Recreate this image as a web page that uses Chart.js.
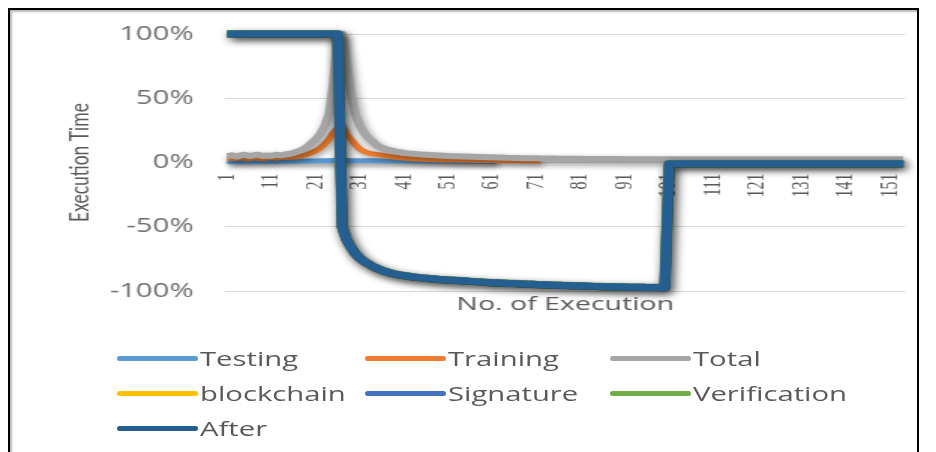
<!DOCTYPE html>
<html>
<head>
<meta charset="utf-8">
<script src="https://cdn.jsdelivr.net/npm/chart.js@4.4.1/dist/chart.umd.min.js"></script>
<style>
  html, body { margin: 0; padding: 0; background: #fff; overflow: hidden; }
  #page { position: relative; width: 936px; height: 452px; overflow: hidden; background: #fff; }
  #frame {
    position: absolute; left: 8px; top: 8px; width: 907px; height: 470px;
    border: 2px solid #000; border-bottom: none;
    box-shadow: inset 2px 2px 2px rgba(0,0,0,0.28);
  }
  /* the plot is drawn at 2/3 width and widened to the page width */
  #stage { position: absolute; left: 0; top: 0; width: 624px; height: 325px; transform: scaleX(1.5); transform-origin: 0 0; }
  #legend { position: absolute; left: 0; top: 0; width: 936px; height: 452px; }
  .item { position: absolute; height: 28px; display: flex; align-items: center; }
  .swatch { display: inline-block; width: 81px; height: 5px; border-radius: 3px; flex: none; }
  .name {
    display: inline-block; margin-left: 2px; font: 19.5px "Open Sans", sans-serif; color: #595959;
    white-space: nowrap; transform: scaleX(1.5); transform-origin: 0 50%;
  }
</style>
</head>
<body>
<div id="page">
  <div id="frame"></div>
  <div id="stage"><canvas id="c" width="624" height="325"></canvas></div>
  <div id="legend"></div>
</div>
<script>
// Run numbers 1..154 along the category axis
const categories = Array.from({ length: 154 }, (_, i) => String(i + 1));
const xTickLabels = ['1','11','21','31','41','51','61','71','81','91','101','111','121','131','141','151'];
const yMin = -100, yMax = 100, yStep = 50;

const seriesNames  = ['Testing', 'Training', 'Total', 'blockchain', 'Signature', 'Verification', 'After'];
const seriesColors = ['#5B9BD5', '#ED7D31', '#A5A5A5', '#FFC000', '#4472C4', '#70AD47', '#255E91'];

// Execution time change, percent
const testingPct = [
  0.5,0.6,0.5,0.6,0.7,0.6,0.6,0.7,0.7,0.8,
  0.8,0.8,0.9,0.9,1.0,1.0,1.0,1.1,1.1,1.2,
  1.2,1.3,1.3,1.4,1.5,1.5,1.5,1.5,1.4,1.4,
  1.4,1.3,1.3,1.3,1.3,1.2,1.2,1.2,1.2,1.1,
  1.1,1.1,1.0,1.0,1.0,1.0,0.9,0.9,0.9,0.9,
  0.9,0.8,0.8,0.8,0.8,0.8,0.7,0.7,0.7,0.7,
  0.7,0.6
];

const trainingPct = [
  3.0,3.4,3.1,3.6,3.3,3.0,3.7,3.3,3.1,3.5,
  3.8,3.4,3.9,4.1,4.0,4.3,4.5,5.2,6.2,7.5,
  9.0,11,14,18,23,27,29,22,18,14,
  10.5,8.5,7.3,6.6,6.1,5.6,5.1,4.6,4.1,3.7,
  3.4,3.1,2.9,2.7,2.5,2.4,2.3,2.2,2.1,2.0,
  1.9,1.9,1.8,1.8,1.7,1.7,1.6,1.6,1.5,1.5,
  1.5,1.4,1.4,1.4,1.3,1.3,1.3,1.2,1.2,1.2,
  1.1,1.1
];

const totalPct = [
  5.0,5.6,4.6,5.5,6.0,5.0,5.6,6.1,5.1,5.5,
  5.2,6.0,5.6,6.2,6.6,7.5,8.5,10,12,15,
  18,22,28,37,60,98,100,78,55,38,
  29,23,19,16,13,11.5,10.3,9.4,8.7,8.1,
  7.5,7.1,6.8,6.5,6.2,6.0,5.8,5.6,5.4,5.2,
  5.0,4.9,4.8,4.7,4.6,4.5,4.4,4.3,4.2,4.1,
  4.0,3.9,3.8,3.7,3.6,3.5,3.5,3.4,3.4,3.3,
  3.3,3.2,3.2,3.1,3.1,3.0,3.0,3.0,2.9,2.9,
  2.9,2.8,2.8,2.8,2.8,2.7,2.7,2.7,2.7,2.7,
  2.6,2.6,2.6,2.6,2.6,2.6,2.6,2.6,2.6,2.6,
  2.5,2.5,2.5,2.5,2.5,2.5,2.5,2.5,2.5,2.5,
  2.5,2.5,2.5,2.5,2.5,2.5,2.5,2.5,2.5,2.5,
  2.5,2.5,2.5,2.5,2.5,2.5,2.5,2.5,2.5,2.5,
  2.5,2.5,2.5,2.5,2.5,2.5,2.5,2.5,2.5,2.5,
  2.5,2.5,2.5,2.5,2.5,2.5,2.5,2.5,2.5,2.5,
  2.5,2.5,2.5,2.5
];

const afterPct = [
  100,100,100,100,100,100,100,100,100,100,
  100,100,100,100,100,100,100,100,100,100,
  100,100,100,100,100,100,-50,-60,-66,-71,
  -74.5,-77,-79,-81,-82.5,-84,-85,-86,-86.8,-87.5,
  -88,-88.5,-89,-89.4,-89.8,-90.1,-90.4,-90.7,-91,-91.2,
  -91.5,-91.7,-91.9,-92.1,-92.3,-92.5,-92.7,-92.9,-93.1,-93.3,
  -93.5,-93.6,-93.8,-93.9,-94.1,-94.2,-94.4,-94.5,-94.7,-94.8,
  -95,-95.1,-95.2,-95.3,-95.5,-95.6,-95.7,-95.8,-95.9,-96,
  -96.1,-96.2,-96.3,-96.4,-96.5,-96.6,-96.7,-96.7,-96.8,-96.9,
  -96.9,-97,-97,-97.1,-97.1,-97.2,-97.2,-97.3,-97.3,-97.4,
  -1,-1,-1,-1,-1,-1,-1,-1,-1,-1,
  -1,-1,-1,-1,-1,-1,-1,-1,-1,-1,
  -1,-1,-1,-1,-1,-1,-1,-1,-1,-1,
  -1,-1,-1,-1,-1,-1,-1,-1,-1,-1,
  -1,-1,-1,-1,-1,-1,-1,-1,-1,-1,
  -1,-1,-1,-1
];

// blockchain, Signature and Verification run on the same trace as After and sit beneath it
const blockchainPct = afterPct;
const signaturePct = afterPct;
const verificationPct = afterPct;

const seriesData = [testingPct, trainingPct, totalPct, blockchainPct, signaturePct, verificationPct, afterPct];
const lineWidths = [5, 5, 6, 7, 7, 7.5, 7];
const shadows = {
  Testing:  { color: 'rgba(0,0,0,0.45)', blur: 5, dx: 1.5, dy: 3 },
  Training: { color: 'rgba(0,0,0,0.35)', blur: 5, dx: 1.5, dy: 3 },
  Total:    { color: 'rgba(0,0,0,0.45)', blur: 6, dx: 1.5, dy: 3 },
  After:    { color: 'rgba(0,0,0,0.85)', blur: 7, dx: 2, dy: 3 }
};

// soft drop shadow under the series lines
const lineShadow = {
  id: 'lineShadow',
  beforeDatasetDraw(chart, args) {
    const s = shadows[chart.data.datasets[args.index].label];
    if (!s) return;
    const ctx = chart.ctx;
    ctx.save();
    ctx.shadowColor = s.color;
    ctx.shadowBlur = s.blur;
    ctx.shadowOffsetX = s.dx;
    ctx.shadowOffsetY = s.dy;
  },
  afterDatasetDraw(chart, args) {
    if (shadows[chart.data.datasets[args.index].label]) chart.ctx.restore();
  }
};

// axis titles: value title to the left, category title under the plot
const axisTitles = {
  id: 'axisTitles',
  afterDraw(chart) {
    const { ctx, chartArea } = chart;
    ctx.save();
    ctx.fillStyle = '#595959';
    ctx.textAlign = 'center';
    ctx.textBaseline = 'middle';
    ctx.font = '17.5px Lato, sans-serif';
    ctx.translate(chartArea.left - 96.5, (chartArea.top + chartArea.bottom) / 2);
    ctx.rotate(-Math.PI / 2);
    ctx.fillText('Execution Time', 0, 0);
    ctx.restore();
    ctx.save();
    ctx.fillStyle = '#595959';
    ctx.textAlign = 'center';
    ctx.textBaseline = 'middle';
    ctx.font = '19px "Open Sans", sans-serif';
    ctx.fillText('No. of Execution', (chartArea.left + chartArea.right) / 2, chartArea.bottom + 14);
    ctx.restore();
  }
};

const datasets = seriesNames.map((name, i) => ({
  label: name,
  data: seriesData[i],
  borderColor: seriesColors[i],
  backgroundColor: seriesColors[i],
  borderWidth: lineWidths[i],
  pointRadius: 0,
  tension: 0,
  fill: false,
  clip: false,
  borderJoinStyle: 'round',
  borderCapStyle: 'butt',
  order: seriesNames.length - i
}));

const chart = new Chart(document.getElementById('c'), {
  type: 'line',
  data: { labels: categories, datasets },
  options: {
    responsive: false,
    animation: false,
    events: [],
    layout: { padding: { left: 0, top: 34, right: 18.7, bottom: 34 } },
    plugins: { legend: { display: false }, tooltip: { enabled: false } },
    scales: {
      x: {
        type: 'category',
        offset: true,
        position: { y: 0 },
        grid: { display: false, drawTicks: false },
        border: { display: true, color: '#d9d9d9' },
        ticks: {
          autoSkip: false,
          minRotation: 90,
          maxRotation: 90,
          padding: 11,
          color: '#595959',
          font: { family: '"Liberation Serif", serif', size: 16 },
          callback(value, index) {
            const lab = categories[index];
            return xTickLabels.includes(lab) ? lab : null;
          }
        }
      },
      y: {
        min: yMin,
        max: yMax,
        afterFit(scale) { scale.width = 150; },
        grid: { color: '#d9d9d9', lineWidth: 1, drawTicks: false },
        border: { display: false },
        ticks: {
          stepSize: yStep,
          padding: 21,
          color: '#6e6e6e',
          font: { family: '"Open Sans", sans-serif', size: 19.5 },
          callback: v => v + '%'
        }
      }
    }
  },
  plugins: [lineShadow, axisTitles]
});

// legend in three columns, built from the chart's own datasets
const legendCols = [117, 365, 610];
const legendRows = [358, 393, 428];
const legendEl = document.getElementById('legend');
chart.data.datasets.forEach((ds, i) => {
  const item = document.createElement('div');
  item.className = 'item';
  item.style.left = legendCols[i % 3] + 'px';
  item.style.top = (legendRows[Math.floor(i / 3)] - 14) + 'px';
  const sw = document.createElement('span');
  sw.className = 'swatch';
  sw.style.background = ds.borderColor;
  const tx = document.createElement('span');
  tx.className = 'name';
  tx.textContent = ds.label;
  item.appendChild(sw);
  item.appendChild(tx);
  legendEl.appendChild(item);
});
</script>
</body>
</html>
